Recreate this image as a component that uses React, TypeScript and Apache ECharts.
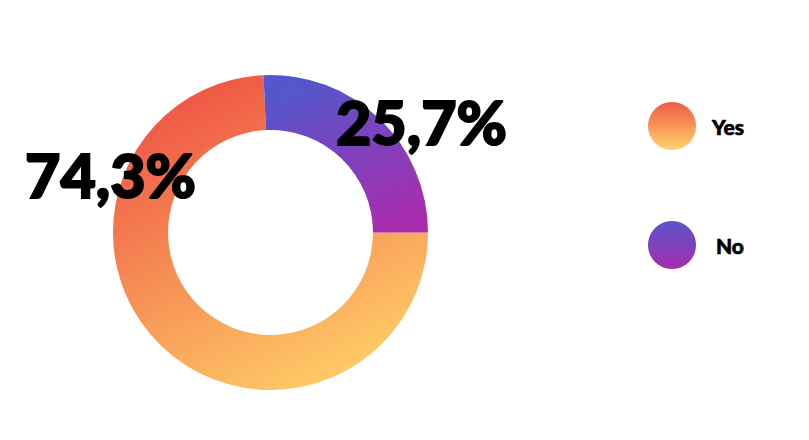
import React, { useEffect, useRef } from "react";
import * as echarts from "echarts";

const categories = ["Yes", "No"];
const values = [74.3, 25.7];
const sliceColors = [
  ["#EE5244", "#FFD067"],
  ["#5258CC", "#A92CAE"],
];
const legendColors = [
  ["#EF5A45", "#FFD36E"],
  ["#5856CB", "#A62DAF"],
];
const labelOffsets = [
  [-68, -154],
  [59, -15],
];

export default function App() {
  const ref = useRef<HTMLDivElement>(null);
  useEffect(() => {
    document.body.style.margin = "0";
    const chart = echarts.init(ref.current!, null, { renderer: "svg" });
    const fmt = (v: number) => String(v).replace(".", ",") + "%";
    chart.setOption({
      animation: false,
      legend: {
        orient: "vertical",
        left: 648,
        top: 102,
        padding: 0,
        itemWidth: 48,
        itemHeight: 48,
        itemGap: 71,
        icon: "circle",
        selectedMode: false,
        data: categories.map((c, i) => ({
          name: c,
          itemStyle: {
            color: new echarts.graphic.LinearGradient(0, 0, 0, 1, [
              { offset: 0, color: legendColors[i][0] },
              { offset: 1, color: legendColors[i][1] },
            ]),
          },
        })),
        formatter: (name: string) => `{t|${name}}`,
        textStyle: {
          rich: {
            t: {
              width: 43,
              align: "right",
              fontFamily: "Lato",
              fontWeight: 900,
              fontSize: 21,
              color: "#000",
              textBorderColor: "#000",
              textBorderWidth: 0.6,
            },
          },
        },
      },
      series: [
        {
          type: "pie",
          center: [270.5, 232.5],
          radius: [102.5, 157.5],
          startAngle: 0,
          clockwise: true,
          silent: true,
          labelLine: { show: false },
          emphasis: { disabled: true },
          data: categories.map((c, i) => ({
            name: c,
            value: values[i],
            itemStyle: {
              color: new echarts.graphic.LinearGradient(0.25, 0, 0.75, 1, [
                { offset: 0, color: sliceColors[i][0] },
                { offset: 1, color: sliceColors[i][1] },
              ]),
            },
            label: {
              show: true,
              position: "inside",
              offset: labelOffsets[i],
              formatter: () => fmt(values[i]),
              fontFamily: "Lato",
              fontWeight: 900,
              fontSize: 61,
              color: "#000",
              textBorderColor: "#000",
              textBorderWidth: 2,
            },
          })),
        },
      ],
    });
    return () => chart.dispose();
  }, []);
  return <div ref={ref} style={{ width: 809, height: 440 }} />;
}
